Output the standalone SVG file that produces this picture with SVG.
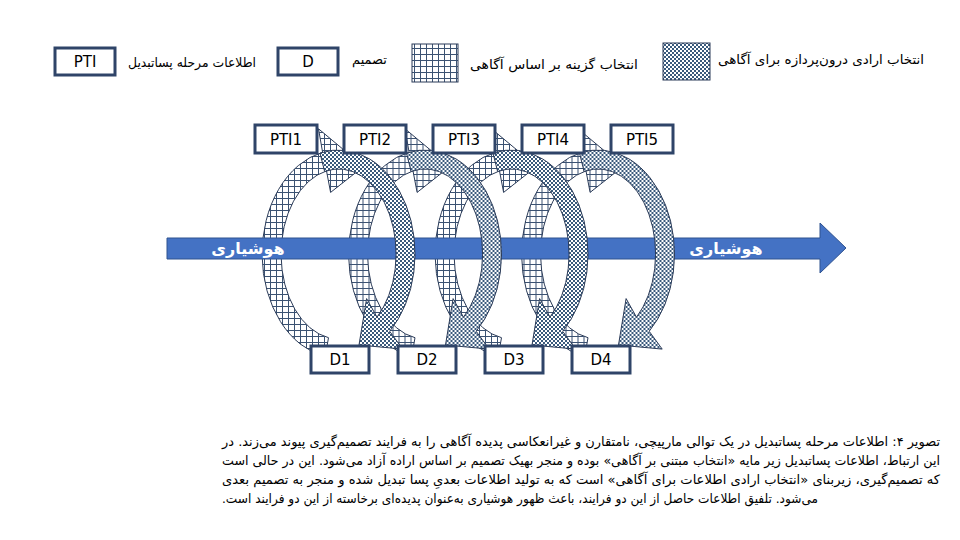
<svg xmlns="http://www.w3.org/2000/svg" width="960" height="540" viewBox="0 0 960 540">
<defs>
<pattern id="grid" width="6" height="6" patternUnits="userSpaceOnUse"><rect width="6" height="6" fill="#fff"/><path d="M0 0.5H6M0.5 0V6" stroke="#3B5272" stroke-width="1" fill="none"/></pattern>
<pattern id="checker" width="4" height="4" patternUnits="userSpaceOnUse"><rect width="4" height="4" fill="#fff"/><rect width="2" height="2" fill="#3A5A7C"/><rect x="2" y="2" width="2" height="2" fill="#3A5A7C"/></pattern>
<path id="gridArc" d="M325.2 356.4 A76.5 104 0 0 1 322.6 152.3 L318.5 128.8 L363.6 166.4 L330.6 192.4 L326.5 170.9 A57.5 85 0 0 0 328.5 337.7 Z"/>
<path id="checkArc" d="M320 153.1 A76.5 104 0 0 1 389.7 331.3 L402.7 349.1 L359 345 L366.6 298.6 L377 317.2 A57.5 85 0 0 0 324.6 171.5 Z"/>
</defs>
<style>
.t{font-family:'DejaVu Sans','Noto Sans',sans-serif;fill:#000}
.box{fill:#fff;stroke:#2F4468;stroke-width:3}
.lbl{font-size:15px;text-anchor:middle}
.g{fill:url(#grid);stroke:#2B3B58;stroke-width:1}
.c{fill:url(#checker);stroke:#2B3B58;stroke-width:1}
.leg{font-size:13px}
.cap{font-size:13px}
</style>
<rect width="960" height="540" fill="#fff"/>

<g id="legend">
<g id="legend-pti"><rect class="box" x="55" y="48" width="60" height="27"/><text class="t lbl" x="85" y="67">PTI</text></g>
<text class="t leg" x="128" y="67" textLength="128" lengthAdjust="spacingAndGlyphs">اطلاعات مرحله پساتبدیل</text>
<g id="legend-d"><rect class="box" x="278" y="48" width="60" height="27"/><text class="t lbl" x="308" y="67">D</text></g>
<text class="t leg" x="352" y="64">تصمیم</text>
<rect class="g" x="412" y="44" width="46" height="38"/>
<text class="t leg" x="470" y="69" textLength="168" lengthAdjust="spacingAndGlyphs">انتخاب گزینه بر اساس آگاهی</text>
<rect class="c" x="663" y="43" width="47" height="37"/>
<text class="t leg" x="718" y="64" textLength="206" lengthAdjust="spacingAndGlyphs">انتخاب ارادی درون&#x200C;پردازه برای آگاهی</text>
</g>

<g id="connectors">
<use href="#gridArc" class="g"/>
<use href="#gridArc" class="g" transform="translate(86.5 0)"/>
<use href="#gridArc" class="g" transform="translate(173 0)"/>
<use href="#gridArc" class="g" transform="translate(259.5 0)"/>
<g id="awareness-arrow">
<path d="M167 238 H820 V223 L846 248 L820 273 V259 H167 Z" fill="#4472C4" stroke="#2F528F" stroke-width="1"/>
<text class="t" x="248" y="254" font-size="16" font-weight="bold" text-anchor="middle" style="fill:#fff">هوشیاری</text>
<text class="t" x="726" y="254" font-size="16" font-weight="bold" text-anchor="middle" style="fill:#fff">هوشیاری</text>
</g>
<use href="#checkArc" class="c"/>
<use href="#checkArc" class="c" transform="translate(86.5 0)"/>
<use href="#checkArc" class="c" transform="translate(173 0)"/>
<use href="#checkArc" class="c" transform="translate(259.5 0)"/>
</g>

<g id="PTI1"><rect class="box" x="255" y="125" width="62" height="28"/><text class="t lbl" x="286" y="145">PTI1</text></g>
<g id="PTI2"><rect class="box" x="344" y="125" width="62" height="28"/><text class="t lbl" x="375" y="145">PTI2</text></g>
<g id="PTI3"><rect class="box" x="433" y="125" width="62" height="28"/><text class="t lbl" x="464" y="145">PTI3</text></g>
<g id="PTI4"><rect class="box" x="522" y="125" width="62" height="28"/><text class="t lbl" x="553" y="145">PTI4</text></g>
<g id="PTI5"><rect class="box" x="611" y="125" width="62" height="28"/><text class="t lbl" x="642" y="145">PTI5</text></g>

<g id="D1"><rect class="box" x="311" y="346" width="58" height="27"/><text class="t lbl" x="340" y="365">D1</text></g>
<g id="D2"><rect class="box" x="398" y="346" width="58" height="27"/><text class="t lbl" x="427" y="365">D2</text></g>
<g id="D3"><rect class="box" x="485" y="346" width="58" height="27"/><text class="t lbl" x="514" y="365">D3</text></g>
<g id="D4"><rect class="box" x="572" y="346" width="58" height="27"/><text class="t lbl" x="601" y="365">D4</text></g>

<g id="caption">
<text class="t cap" x="222" y="446" textLength="718" lengthAdjust="spacingAndGlyphs">تصویر ۴: اطلاعات مرحله پساتبدیل  در یک توالی مارپیچی، نامتقارن و غیرانعکاسی پدیده آگاهی را به فرایند تصمیم&#x200C;گیری پیوند می&#x200C;زند. در</text>
<text class="t cap" x="222" y="465" textLength="718" lengthAdjust="spacingAndGlyphs">این ارتباط، اطلاعات پساتبدیل زیر مایه «انتخاب مبتنی بر آگاهی» بوده و منجر بهیک تصمیم بر اساس اراده آزاد می&#x200C;شود. این در حالی است</text>
<text class="t cap" x="222" y="484" textLength="718" lengthAdjust="spacingAndGlyphs">که تصمیم&#x200C;گیری، زیربنای «انتخاب ارادی اطلاعات برای آگاهی» است که به تولید اطلاعات بعدیِ پسا تبدیل شده و منجر به تصمیم بعدی</text>
<text class="t cap" x="222" y="503" textLength="596" lengthAdjust="spacingAndGlyphs">می&#x200C;شود. تلفیق اطلاعات حاصل از این دو فرایند، باعث ظهور هوشیاری به&#x200C;عنوان پدیده&#x200C;ای برخاسته از این دو فرایند است.&#x200F;</text>
</g>
</svg>
